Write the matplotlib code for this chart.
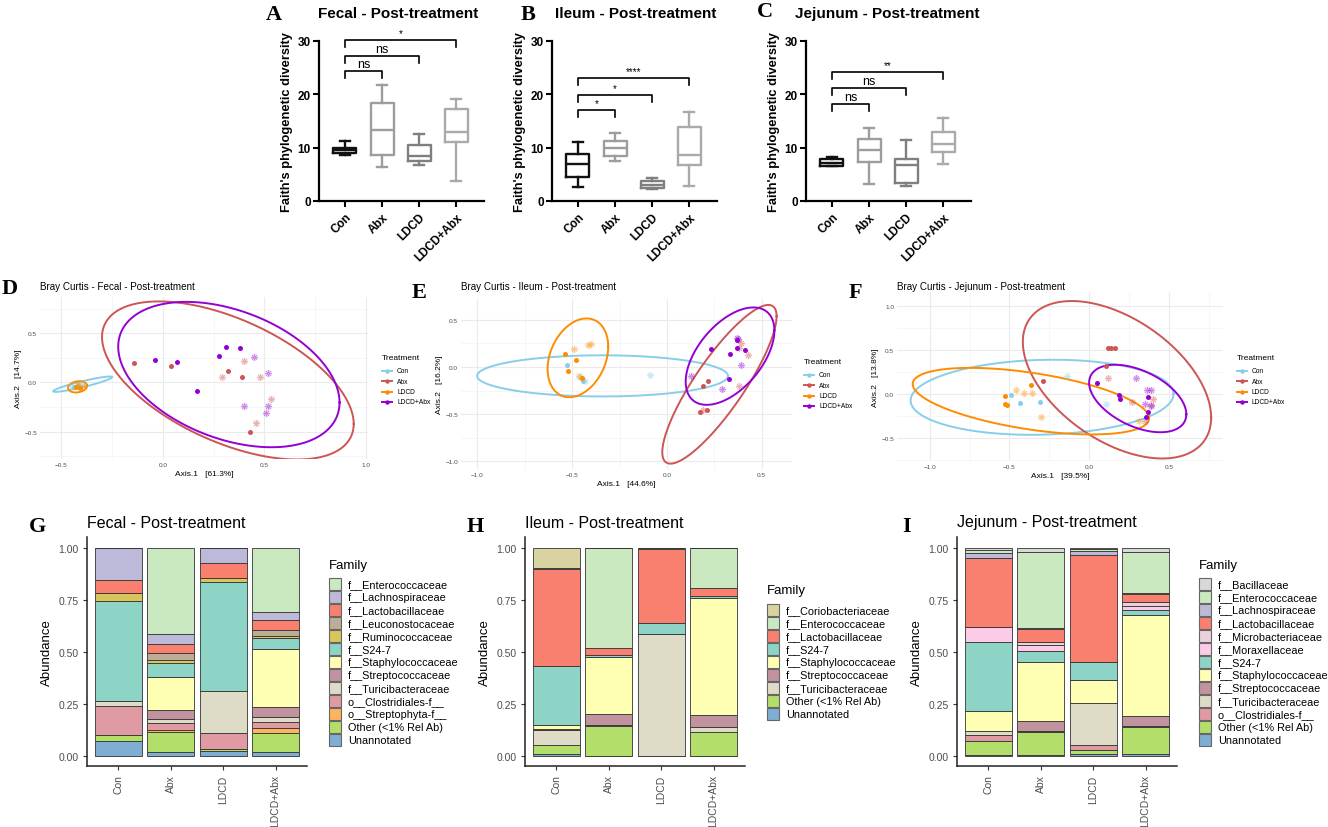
import numpy as np
import matplotlib
matplotlib.use('Agg')
import matplotlib.pyplot as plt
from matplotlib.lines import Line2D
from matplotlib.patches import Rectangle

plt.rcParams['font.family'] = ['Liberation Sans', 'DejaVu Sans']

W, H = 1328, 828
groups = ['Con', 'Abx', 'LDCD', 'LDCD+Abx']

# ---------------- A-C : Faith's phylogenetic diversity (box stats) ----------------
fecal_q1 = [9.0, 8.7, 7.5, 11.0]
fecal_med = [9.5, 13.4, 8.4, 12.9]
fecal_q3 = [10.0, 18.4, 10.5, 17.2]
fecal_lo = [8.6, 6.3, 6.8, 3.8]
fecal_hi = [11.2, 21.8, 12.5, 19.1]
fecal_sig = ['ns', 'ns', '*']
fecal_sig_y = [24.4, 27.2, 30.2]

ileum_q1 = [4.5, 8.4, 2.4, 6.8]
ileum_med = [7.0, 10.0, 3.0, 8.6]
ileum_q3 = [8.9, 11.3, 3.8, 13.8]
ileum_lo = [2.6, 7.5, 2.2, 2.8]
ileum_hi = [11.1, 12.8, 4.3, 16.6]
ileum_sig = ['*', '*', '****']
ileum_sig_y = [17.0, 19.9, 23.1]

jej_q1 = [6.5, 7.4, 3.3, 9.2]
jej_med = [7.2, 9.5, 6.8, 10.7]
jej_q3 = [7.8, 11.6, 7.8, 12.9]
jej_lo = [6.5, 3.2, 2.8, 6.9]
jej_hi = [8.2, 13.6, 11.5, 15.6]
jej_sig = ['ns', 'ns', '**']
jej_sig_y = [18.2, 21.2, 24.2]

# ---------------- D-F : Bray Curtis PCoA ----------------
# points: x, y, group, shape (o = circle, s = asterisk)
D_x = [-0.44, -0.42, -0.45, -0.40, -0.43, -0.41, -0.42, -0.39,
       -0.14, 0.04, 0.32, 0.39, 0.43, 0.40, 0.29, 0.48, 0.53, 0.46,
       -0.04, 0.07, 0.17, 0.275, 0.31, 0.38, 0.45, 0.52, 0.40, 0.52, 0.51]
D_y = [-0.05, -0.03, -0.04, -0.02, -0.045, -0.055, -0.03, -0.04,
       0.20, 0.17, 0.12, 0.055, -0.50, 0.22, 0.06, 0.06, -0.17, -0.41,
       0.23, 0.21, -0.09, 0.27, 0.36, 0.35, 0.255, 0.10, -0.245, -0.24, -0.31]
D_g = ['Con'] * 4 + ['LDCD'] * 4 + ['Abx'] * 10 + ['LDCD+Abx'] * 11
D_s = ['o', 'o', 's', 's', 'o', 'o', 's', 's'] + ['o'] * 5 + ['s'] * 5 + ['o'] * 6 + ['s'] * 5
# ellipses: centre x, centre y, var x, var y, cov xy  (Con, Abx, LDCD, LDCD+Abx)
D_ell = [(-0.395, -0.018, 0.021, 0.0061, 0.0104),
         (0.32, 0.02, 0.384, 0.648, -0.274),
         (-0.42, -0.045, 0.0022, 0.0033, 0.0005),
         (0.325, 0.08, 0.297, 0.548, -0.155)]

E_x = [-0.53, -0.445, -0.43, -0.09, -0.46,
       -0.54, -0.48, -0.52, -0.45, -0.49, -0.40, -0.415, -0.465,
       0.215, 0.19, 0.176, 0.21, 0.39, 0.43, 0.38, 0.19, 0.38,
       0.23, 0.335, 0.37, 0.41, 0.37, 0.33, 0.37, 0.39, 0.29, 0.127, 0.375]
E_y = [0.02, -0.15, -0.15, -0.08, -0.11,
       0.14, 0.078, -0.043, -0.12, 0.195, 0.24, 0.235, -0.10,
       -0.145, -0.20, -0.48, -0.45, 0.255, 0.125, -0.20, -0.46, 0.20,
       0.195, 0.135, 0.20, 0.185, 0.285, -0.125, 0.31, 0.02, -0.235, -0.095, 0.30]
E_g = ['Con'] * 5 + ['LDCD'] * 8 + ['Abx'] * 9 + ['LDCD+Abx'] * 11
E_s = ['o', 'o', 's', 's', 's'] + ['o'] * 4 + ['s'] * 4 + ['o'] * 4 + ['s'] * 5 + ['o'] * 6 + ['s'] * 5
E_ell = [(-0.34, -0.094, 0.438, 0.0475, 0.0),
         (0.277, -0.183, 0.091, 0.706, 0.217),
         (-0.47, 0.097, 0.0256, 0.174, 0.019),
         (0.333, 0.115, 0.0548, 0.266, 0.0635)]

F_x = [-0.49, -0.433, -0.307, -0.14, 0.105,
       -0.364, -0.53, -0.53, -0.517, -0.46, -0.406, -0.358, -0.30, 0.31,
       0.117, 0.14, 0.163, 0.107, -0.29, 0.117, 0.27, 0.40, 0.39, 0.35,
       0.05, 0.19, 0.195, 0.37, 0.37, 0.356, 0.297, 0.366, 0.387, 0.35, 0.39]
F_y = [-0.01, -0.10, -0.09, 0.21, -0.114,
       0.10, -0.027, -0.11, -0.125, 0.042, 0.008, 0.008, -0.26, -0.31,
       0.52, 0.52, 0.52, 0.32, 0.148, 0.18, -0.087, -0.06, -0.12, -0.31,
       0.13, -0.015, -0.06, -0.035, -0.20, -0.255, 0.18, 0.05, 0.05, -0.11, -0.13]
F_g = ['Con'] * 5 + ['LDCD'] * 9 + ['Abx'] * 10 + ['LDCD+Abx'] * 11
F_s = ['o'] * 3 + ['s'] * 2 + ['o'] * 4 + ['s'] * 5 + ['o'] * 5 + ['s'] * 5 + ['o'] * 6 + ['s'] * 5
F_ell = [(-0.295, -0.036, 0.68, 0.182, 0.030),
         (0.175, 0.163, 0.349, 0.80, -0.254),
         (-0.365, -0.08, 0.55, 0.143, -0.144),
         (0.305, -0.05, 0.093, 0.147, -0.0545)]

# ---------------- G-I : relative abundance by family ----------------
G_fams = ['f__Enterococcaceae', 'f__Lachnospiraceae', 'f__Lactobacillaceae', 'f__Leuconostocaceae',
          'f__Ruminococcaceae', 'f__S24-7', 'f__Staphylococcaceae', 'f__Streptococcaceae',
          'f__Turicibacteraceae', 'o__Clostridiales-f__', 'o__Streptophyta-f__',
          'Other (<1% Rel Ab)', 'Unannotated']
G_con = [0, 0.152, 0.064, 0, 0.04, 0.48, 0, 0, 0.024, 0.136, 0, 0.032, 0.072]
G_abx = [0.414, 0.048, 0.042, 0.035, 0.015, 0.064, 0.158, 0.044, 0.02, 0.032, 0.013, 0.096, 0.019]
G_ldcd = [0, 0.07, 0.072, 0, 0.02, 0.523, 0, 0, 0.205, 0.075, 0, 0.011, 0.024]
G_la = [0.306, 0.038, 0.051, 0.026, 0.013, 0.049, 0.279, 0.048, 0.024, 0.030, 0.024, 0.094, 0.018]

H_fams = ['f__Coriobacteriaceae', 'f__Enterococcaceae', 'f__Lactobacillaceae', 'f__S24-7',
          'f__Staphylococcaceae', 'f__Streptococcaceae', 'f__Turicibacteraceae',
          'Other (<1% Rel Ab)', 'Unannotated']
H_con = [0.094, 0.008, 0.464, 0.286, 0.015, 0.005, 0.072, 0.046, 0.01]
H_abx = [0, 0.48, 0.035, 0.01, 0.27, 0.057, 0.005, 0.141, 0.002]
H_ldcd = [0.002, 0.003, 0.355, 0.054, 0, 0, 0.584, 0, 0.002]
H_la = [0, 0.19, 0.039, 0.009, 0.565, 0.055, 0.028, 0.111, 0.003]

I_fams = ['f__Bacillaceae', 'f__Enterococcaceae', 'f__Lachnospiraceae', 'f__Lactobacillaceae',
          'f__Microbacteriaceae', 'f__Moraxellaceae', 'f__S24-7', 'f__Staphylococcaceae',
          'f__Streptococcaceae', 'f__Turicibacteraceae', 'o__Clostridiales-f__',
          'Other (<1% Rel Ab)', 'Unannotated']
I_con = [0.01, 0.012, 0.024, 0.334, 0, 0.07, 0.334, 0.096, 0, 0.016, 0.029, 0.07, 0.005]
I_abx = [0.018, 0.364, 0.007, 0.061, 0.016, 0.03, 0.052, 0.284, 0.046, 0.003, 0.004, 0.11, 0.005]
I_ldcd = [0.005, 0.009, 0.02, 0.513, 0, 0, 0.087, 0.108, 0, 0.203, 0.025, 0.02, 0.01]
I_la = [0.02, 0.197, 0.003, 0.04, 0.02, 0.02, 0.02, 0.488, 0.049, 0.002, 0.002, 0.129, 0.01]

# styles
box_cols = ['#111111', '#9d9d9d', '#7f7f7f', '#aaaaaa']
pcol = {'Con': '#87CEEB', 'Abx': '#CD5555', 'LDCD': '#FF8C00', 'LDCD+Abx': '#9400D3'}
fam_col = {
    'f__Enterococcaceae': '#CAE9C1', 'f__Lachnospiraceae': '#BDB9D9', 'f__Lactobacillaceae': '#F9806F',
    'f__Leuconostocaceae': '#BCAD96', 'f__Ruminococcaceae': '#D8C65C', 'f__S24-7': '#8DD3C6',
    'f__Staphylococcaceae': '#FFFFB3', 'f__Streptococcaceae': '#C0939E', 'f__Turicibacteraceae': '#DEDBC6',
    'o__Clostridiales-f__': '#DF9AA3', 'o__Streptophyta-f__': '#FDB45F', 'Other (<1% Rel Ab)': '#B3DE69',
    'Unannotated': '#7FAED2', 'f__Coriobacteriaceae': '#D8D3A0', 'f__Bacillaceae': '#D9D9D9',
    'f__Microbacteriaceae': '#EBD1DC', 'f__Moraxellaceae': '#FCCBE5'}

fig = plt.figure(figsize=(W / 100, H / 100), dpi=100)


def px_axes(x0, y0, x1, y1):
    # axes from pixel box (y measured from top)
    return fig.add_axes([x0 / W, 1 - y1 / H, (x1 - x0) / W, (y1 - y0) / H])


def ftext(x, y, s, **kw):
    return fig.text(x / W, 1 - y / H, s, **kw)


def letter(x, y, s):
    ftext(x, y, s, family='Liberation Serif', fontweight='bold', fontsize=16, ha='center', va='center')


def box_panel(rect, q1, med, q3, lo, hi, sig, sig_y, title, title_x):
    ax = px_axes(*rect)
    stats = [dict(q1=a, med=m, q3=b, whislo=l, whishi=h, fliers=[])
             for a, m, b, l, h in zip(q1, med, q3, lo, hi)]
    art = ax.bxp(stats, positions=[1, 2, 3, 4], widths=0.62, capwidths=0.26,
                 showfliers=False, manage_ticks=False)
    for i, c in enumerate(box_cols):
        art['boxes'][i].set(color=c, lw=1.7)
        art['medians'][i].set(color=c, lw=1.7)
        for ln in art['whiskers'][2 * i:2 * i + 2] + art['caps'][2 * i:2 * i + 2]:
            ln.set(color=c, lw=1.7)
    ax.set_yticks([0, 10, 20, 30])
    ax.set_xticks([1, 2, 3, 4])
    ax.set_xlim(0.3, 4.75)
    ax.set_ylim(0, 30)
    ax.set_xticklabels(groups, rotation=45, ha='right', rotation_mode='anchor',
                       fontweight='bold', fontsize=8.5)
    for lab in ax.get_yticklabels():
        lab.set_fontweight('bold')
    ax.tick_params(axis='y', labelsize=8.5, length=4, width=1.5, pad=2)
    ax.tick_params(axis='x', length=4, width=1.5, pad=3)
    for s in ['top', 'right']:
        ax.spines[s].set_visible(False)
    for s in ['left', 'bottom']:
        ax.spines[s].set_linewidth(1.6)
    ax.set_ylabel("Faith's phylogenetic diversity", fontweight='bold', fontsize=9.3, labelpad=3)
    # significance brackets against Con
    for i, (lab, h) in enumerate(zip(sig, sig_y)):
        x2 = i + 2
        ax.plot([1, 1, x2, x2], [h - 1.3, h, h, h - 1.3], color='black', lw=1.2, clip_on=False)
        if lab == 'ns':
            ax.text((1 + x2) / 2, h + 0.2, lab, ha='center', va='bottom', fontsize=9)
        else:
            ax.text((1 + x2) / 2, h + 0.4, lab, ha='center', va='bottom', fontsize=7)
    ftext(title_x, 14, title, fontweight='bold', fontsize=11, ha='center', va='center')
    return ax


def ellipse_xy(cx, cy, sxx, syy, sxy):
    L = np.linalg.cholesky(np.array([[sxx, sxy], [sxy, syy]]))
    t = np.linspace(0, 2 * np.pi, 240)
    e = L @ np.vstack([np.cos(t), np.sin(t)])
    return cx + e[0], cy + e[1]


def pcoa_panel(rect, xs, ys, gs, ss, ell, xlim, ylim, xt, yt, title, xlab, ylab, leg):
    ax = px_axes(*rect)
    ax.set_xticks(xt)
    ax.set_yticks(yt)
    ax.set_xticks(np.arange(xt[0] - 0.25, xt[-1] + 0.3, 0.5), minor=True)
    ax.set_yticks(np.arange(yt[0] - 0.25, yt[-1] + 0.3, 0.5), minor=True)
    ax.grid(which='major', color='#EBEBEB', lw=0.8)
    ax.grid(which='minor', color='#F3F3F3', lw=0.5)
    ax.set_axisbelow(True)
    for s in ax.spines.values():
        s.set_visible(False)
    ax.tick_params(which='both', length=0, labelsize=4.6, labelcolor='#4D4D4D', pad=2)
    for g, p in zip(groups, ell):
        ex, ey = ellipse_xy(*p)
        ax.plot(ex, ey, color=pcol[g], lw=1.4)
    for x, y, g, s in zip(xs, ys, gs, ss):
        if s == 'o':
            ax.plot(x, y, ls='none', marker='o', ms=3.6, color=pcol[g], mew=0)
        else:
            ax.plot(x, y, ls='none', marker='o', ms=5.5, color=pcol[g], alpha=0.1, mew=0)
            ax.plot(x, y, ls='none', marker=(8, 2, 0), ms=4.5, mew=0.6, color=pcol[g], alpha=0.38)
    # limits last: tick setting widens the view
    ax.set_xlim(*xlim)
    ax.set_ylim(*ylim)
    ax.set_xlabel(xlab, fontsize=6, labelpad=2)
    ax.set_ylabel(ylab, fontsize=6, labelpad=2)
    ftext(rect[0], 287, title, fontsize=7.1, ha='left', va='center')
    # legend drawn by hand
    lx, ly = leg
    ftext(lx, ly, 'Treatment', fontsize=6, ha='left', va='center')
    for i, g in enumerate(groups):
        yy = 1 - (ly + 13 + 10.3 * i) / H
        fig.add_artist(Line2D([lx / W, (lx + 10) / W], [yy, yy], color=pcol[g], lw=1.4,
                              transform=fig.transFigure))
        fig.add_artist(Line2D([(lx + 5) / W], [yy], marker='o', ms=3.2, mew=0, color=pcol[g],
                              transform=fig.transFigure))
        fig.text((lx + 15) / W, yy, g, fontsize=4.8, ha='left', va='center')
    return ax


def bar_panel(rect, fams, cols, title, leg_x, leg_y0):
    ax = px_axes(*rect)
    vals = np.array(cols).T
    pos = np.arange(1, 5)
    bottom = np.zeros(4)
    for f, row in zip(fams[::-1], vals[::-1]):
        ax.bar(pos, row, bottom=bottom, width=0.9, color=fam_col[f], edgecolor='#333333', lw=0.6)
        bottom += row
    ax.set_yticks([0, 0.25, 0.5, 0.75, 1.0])
    ax.set_yticklabels(['0.00', '0.25', '0.50', '0.75', '1.00'])
    ax.set_xticks(pos)
    ax.set_xticklabels(groups, rotation=90, ha='center', va='top')
    ax.set_xlim(0.4, 4.6)
    ax.set_ylim(-0.047, 1.053)
    ax.tick_params(labelsize=7.5, labelcolor='#4D4D4D', color='#333333', length=3, width=0.8, pad=3)
    for s in ['top', 'right']:
        ax.spines[s].set_visible(False)
    for s in ['left', 'bottom']:
        ax.spines[s].set_linewidth(1.1)
        ax.spines[s].set_color('#222222')
    ax.set_ylabel('Abundance', fontsize=9.5, labelpad=4)
    ftext(rect[0], 523, title, fontsize=11.5, ha='left', va='center')
    # family legend
    ftext(leg_x, leg_y0 - 19.5, 'Family', fontsize=9.5, ha='left', va='center')
    for i, f in enumerate(fams):
        yc = leg_y0 + 13 * i
        fig.add_artist(Rectangle((leg_x / W, 1 - (yc + 6) / H), 12 / W, 12 / H, facecolor=fam_col[f],
                                 edgecolor='#666666', lw=0.8, transform=fig.transFigure))
        ftext(leg_x + 19, yc, f, fontsize=7.8, ha='left', va='center')
    return ax


# top row
box_panel((319, 42, 484, 202), fecal_q1, fecal_med, fecal_q3, fecal_lo, fecal_hi,
          fecal_sig, fecal_sig_y, 'Fecal - Post-treatment', 398)
box_panel((552, 42, 717, 202), ileum_q1, ileum_med, ileum_q3, ileum_lo, ileum_hi,
          ileum_sig, ileum_sig_y, 'Ileum - Post-treatment', 636)
box_panel((806, 42, 971, 202), jej_q1, jej_med, jej_q3, jej_lo, jej_hi,
          jej_sig, jej_sig_y, 'Jejunum - Post-treatment', 887)
letter(274, 15, 'A')
letter(528, 15, 'B')
letter(765, 12, 'C')

# middle row
pcoa_panel((40, 298, 368, 460), D_x, D_y, D_g, D_s, D_ell, (-0.605, 1.01), (-0.78, 0.87),
           [-0.5, 0.0, 0.5, 1.0], [-0.5, 0.0, 0.5], 'Bray Curtis - Fecal - Post-treatment',
           'Axis.1   [61.3%]', 'Axis.2   [14.7%]', (382, 359))
pcoa_panel((461, 300, 792, 470), E_x, E_y, E_g, E_s, E_ell, (-1.087, 0.66), (-1.08, 0.72),
           [-1.0, -0.5, 0.0, 0.5], [-1.0, -0.5, 0.0, 0.5], 'Bray Curtis - Ileum - Post-treatment',
           'Axis.1   [44.6%]', 'Axis.2   [16.2%]', (804, 363))
pcoa_panel((897, 293, 1223, 462), F_x, F_y, F_g, F_s, F_ell, (-1.205, 0.84), (-0.76, 1.16),
           [-1.0, -0.5, 0.0, 0.5], [-0.5, 0.0, 0.5, 1.0], 'Bray Curtis - Jejunum - Post-treatment',
           'Axis.1   [39.5%]', 'Axis.2   [13.8%]', (1237, 359))
letter(10, 289, 'D')
letter(419, 293, 'E')
letter(855, 293, 'F')

# bottom row
bar_panel((87, 538, 307, 767), G_fams, [G_con, G_abx, G_ldcd, G_la], 'Fecal - Post-treatment', 329, 585)
bar_panel((525, 538, 745, 767), H_fams, [H_con, H_abx, H_ldcd, H_la], 'Ileum - Post-treatment', 767, 611)
bar_panel((957, 538, 1177, 767), I_fams, [I_con, I_abx, I_ldcd, I_la], 'Jejunum - Post-treatment', 1199, 585)
letter(37, 527, 'G')
letter(475, 527, 'H')
letter(907, 527, 'I')

fig.savefig('out.png', dpi=100)
